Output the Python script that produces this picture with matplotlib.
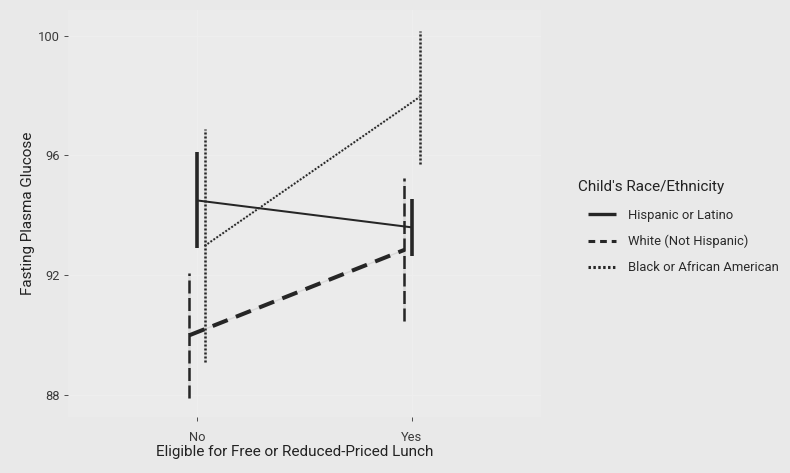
import matplotlib
matplotlib.use('Agg')
import matplotlib.pyplot as plt
from matplotlib.lines import Line2D
import numpy as np

plt.rcParams['font.family'] = ['Roboto', 'DejaVu Sans']

# Daten ------------------------------------------------------------------------------------------
kategorien = ['No', 'Yes']
gruppen = ['Hispanic or Latino', 'White (Not Hispanic)', 'Black or African American']
mittel_hisp = [94.5, 93.6]
fehler_hisp = [1.6, 0.95]
mittel_white = [90.0, 92.85]
fehler_white = [2.08, 2.39]
mittel_black = [92.98, 97.95]
fehler_black = [3.89, 2.22]
y_ticks = [88, 92, 96, 100]

# Stil --------------------------------------------------------------------------------------------
bg = '#E9E9E9'
ink = '#262626'
unter = '#D8D8D8'
versatz = {'White (Not Hispanic)': -0.035, 'Hispanic or Latino': 0.0, 'Black or African American': 0.035}
stil = {
    'Hispanic or Latino': dict(ls='-', lw=1.45, elw=2.6, dash=None, edash=None),
    'White (Not Hispanic)': dict(ls='--', lw=2.9, elw=1.8, dash=(4.0, 2.2), edash=(5.2, 1.8)),
    'Black or African American': dict(ls=':', lw=1.45, elw=1.8, dash=(0.9, 0.9), edash=(0.8, 0.8)),
}
daten = {
    'Hispanic or Latino': (mittel_hisp, fehler_hisp),
    'White (Not Hispanic)': (mittel_white, fehler_white),
    'Black or African American': (mittel_black, fehler_black),
}

fig = plt.figure(figsize=(7.9, 4.73), dpi=100, facecolor=bg)
ax = fig.add_axes([68 / 790, 1 - 417 / 473, (541 - 68) / 790, (417 - 10.5) / 473])
ax.set_facecolor('#EBEBEB')

x0 = np.arange(1, len(kategorien) + 1)
for g in ['White (Not Hispanic)', 'Hispanic or Latino', 'Black or African American']:
    m, e = daten[g]
    s = stil[g]
    x = x0 + versatz[g]
    m = np.array(m)
    e = np.array(e)
    # graue Unterlage wie im Original
    if s['dash'] is not None:
        ax.plot(x, m, color=unter, lw=1.0, solid_capstyle='butt', zorder=2)
        ax.vlines(x, m - e, m + e, color=unter, lw=s['elw'], zorder=2)
    ln = ax.plot(x, m, color=ink, lw=s['lw'], solid_capstyle='butt', zorder=3)[0]
    vl = ax.vlines(x, m - e, m + e, color=ink, lw=s['elw'], zorder=3)
    if s['dash'] is not None:
        ln.set_dashes(s['dash'])
        ln.set_dash_capstyle('butt')
        vl.set_linestyle((0, s['edash']))

ax.set_xlim(0.4, 2.6)
ax.set_ylim(87.27, 100.84)
ax.set_xticks(x0)
ax.set_xticklabels(kategorien)
ax.set_yticks(y_ticks)
ax.set_yticklabels([str(t) for t in y_ticks])
ax.tick_params(colors='#333333', labelsize=9.3, length=3, width=0.6)
ax.tick_params(axis='x', pad=7)
ax.tick_params(axis='y', pad=3)
for lab in ax.get_xticklabels() + ax.get_yticklabels():
    lab.set_color('#3a3a3a')
ax.grid(True, color='#EEEEEE', lw=0.8)
ax.set_axisbelow(True)
for sp in ax.spines.values():
    sp.set_visible(False)

ax.set_xlabel('Eligible for Free or Reduced-Priced Lunch', fontsize=11, color='#222222')
ax.set_ylabel('Fasting Plasma Glucose', fontsize=11, color='#222222')
ax.xaxis.set_label_coords((295 - 68) / (541 - 68), -(452 - 417) / (417 - 10.5), transform=ax.transAxes)
ax.yaxis.set_label_coords(-(68 - 28) / (541 - 68), 0.5, transform=ax.transAxes)
ax.xaxis.label.set_va('center')
ax.yaxis.label.set_va('center')

# Legende ------------------------------------------------------------------------------------------
fig.text(578 / 790, 1 - 187 / 473, "Child's Race/Ethnicity", fontsize=11, color='#222222',
         ha='left', va='center')
griffe = []
for g in gruppen:
    s = stil[g]
    h = Line2D([], [], color=ink, lw=2.4 if s['dash'] is None else s['elw'] + 0.4, solid_capstyle='butt')
    if s['dash'] is not None:
        h.set_dashes(s['edash'] if g != 'White (Not Hispanic)' else (2.2, 1.6))
        h.set_dash_capstyle('butt')
    griffe.append(h)
leg = fig.legend(griffe, gruppen, loc='upper left',
                 bbox_to_anchor=(576 / 790, 1 - 197 / 473), frameon=False, fontsize=9.4,
                 handlelength=2.15, handletextpad=0.92, labelspacing=1.0)
for t in leg.get_texts():
    t.set_color('#2a2a2a')

fig.savefig('out.png', dpi=100, facecolor=bg)
